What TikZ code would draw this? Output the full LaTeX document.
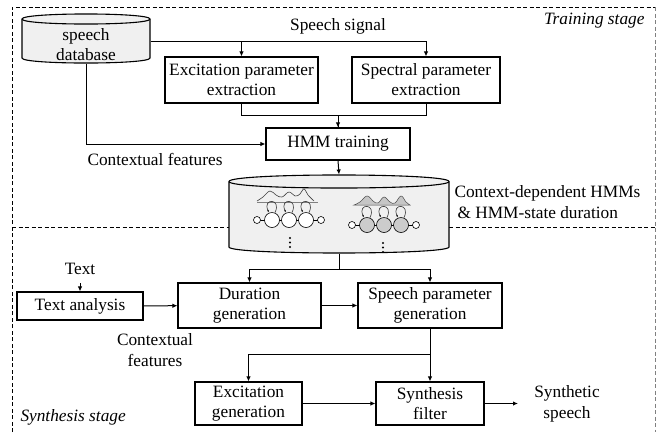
\documentclass[tikz,border=0pt]{standalone}
\usepackage{fontspec}
\setmainfont{Liberation Serif}
\usetikzlibrary{arrows.meta}
\newcommand\fs{\fontsize{17.3}{20}\selectfont}
\newcommand\fsw{\fontsize{17.3}{21}\selectfont}
\begin{document}
\begin{tikzpicture}[x=1pt,y=-1pt, line width=1pt,
  box/.style={draw, line width=1.1pt, align=center, inner sep=0pt, font=\fs},
  lbl/.style={align=center, inner sep=0pt, font=\fs},
  arr/.style={-{Latex[length=5pt,width=4.5pt]}},
  sarr/.style={-{Latex[length=2.5pt,width=2.2pt]}},
  frame/.style={dash pattern=on 4pt off 2.5pt, line width=0.9pt},
  thin/.style={line width=0.6pt}]
\useasboundingbox (0,0) rectangle (663,432);

% frame
\draw[frame] (12,432) -- (12,7) -- (655,7);
\draw[frame, gray] (655,7) -- (655,432);
\draw[frame] (12,227) -- (229,227);
\draw[frame] (449,227) -- (655,227);
\node[lbl, anchor=east, font=\fs\itshape] at (645,21) {Training stage};
\node[lbl, anchor=west, font=\fs\itshape] at (20,417) {Synthesis stage};

% speech database cylinder
\filldraw[fill=gray!12, line width=1.1pt] (22,19) -- (22,58) .. controls (22,64.7) and (150,64.7) .. (150,58)
  -- (150,19) .. controls (150,12.3) and (22,12.3) .. (22,19) -- cycle;
\draw[line width=1.1pt] (22,19) .. controls (22,25.7) and (150,25.7) .. (150,19);
\node[inner sep=0pt, minimum width=128pt, minimum height=44pt] (db) at (86,41) {};
\node[lbl] at (86,45) {speech\\database};

% HMM cylinder
\filldraw[fill=gray!12, line width=1.1pt] (229,181.5) -- (229,247) .. controls (229,255) and (449,255) .. (449,247)
  -- (449,181.5) .. controls (449,172.8) and (229,172.8) .. (229,181.5) -- cycle;
\draw[line width=1.1pt] (229,181.5) .. controls (229,190.2) and (449,190.2) .. (449,181.5);
\node[inner sep=0pt, minimum width=220pt, minimum height=78pt] (cyl) at (339,214) {};

% left HMM
\draw[gray, line width=0.5pt] (257,202) -- (318,202);
\draw[gray!50!black, thin] plot[smooth, tension=0.7] coordinates {(257,201) (263,197) (270,191) (276,195) (282,197) (289,192) (295,196) (300,194) (304,189) (308,195) (314,201)};
\draw[thin] (257,220) -- (321,220);
\foreach \c in {272,289,306} {
  \filldraw[thin, fill=white] (\c,220) circle[radius=7.5pt];
  \draw[thin, gray!40!black, sarr] (\c+3,212.5) .. controls (\c+10,198) and (\c-10,198) .. (\c-3,212.5);
}
\foreach \c in {257,321} \filldraw[thin, fill=white] (\c,220) circle[radius=3.5pt];
\foreach \d in {238,242.5,247} \fill (290,\d) circle[radius=1.2pt];

% right HMM
\filldraw[fill=gray!45, draw=gray!60!black, line width=0.5pt] plot[smooth, tension=0.7] coordinates {(354,205) (360,202) (367,196) (373,201) (378,203) (384,197) (390,202) (395,203) (401,196) (406,202) (410,205)} -- cycle;
\draw[thin] (352,225) -- (416,225);
\foreach \c in {367,384,401} {
  \filldraw[thin, fill=gray!40] (\c,225) circle[radius=7.5pt];
  \draw[thin, gray!40!black, sarr] (\c+3,217.5) .. controls (\c+10,203) and (\c-10,203) .. (\c-3,217.5);
}
\foreach \c in {352,416} \filldraw[thin, fill=white] (\c,225) circle[radius=3.5pt];
\foreach \d in {243,247.5,252} \fill (383,\d) circle[radius=1.2pt];

\node[lbl, anchor=west, align=left, font=\fsw] at (454,202) {Context-dependent HMMs\\\hspace{3pt}\& HMM-state duration};

% training boxes
\node[box, minimum width=153pt, minimum height=46pt] (exc) at (241.5,80) {Excitation parameter\\extraction};
\node[box, minimum width=148pt, minimum height=46pt] (spec) at (426,80) {Spectral parameter\\extraction};
\node[box, minimum width=144pt, minimum height=32pt] (hmm) at (338,144) {HMM training};
\node[lbl] at (338,26) {Speech signal};
\node[lbl] at (155,159) {Contextual features};

\coordinate (sig) at (0,41);
\draw[arr] (db.east) -- (spec.north |- sig) -- (spec.north);
\draw[arr] (exc.north |- sig) -- (exc.north);
\draw[arr] (exc.south) -- ++(0,12) -| (hmm.north);
\draw (spec.south) -- ++(0,12) -| (hmm.north);
\draw[arr] (db.south) |- (hmm.west);
\draw[arr] (hmm.south) -- (cyl.north);

% synthesis
\node[lbl] (txt) at (80,269) {Text};
\node[box, minimum width=126pt, minimum height=28pt] (ta) at (80,306) {Text analysis};
\node[box, minimum width=143pt, minimum height=45pt] (dur) at (249.5,305.5) {Duration\\generation};
\node[box, minimum width=144pt, minimum height=45pt] (spg) at (430,305.5) {Speech parameter\\generation};
\node[lbl, font=\fsw] at (155,350.5) {Contextual\\features};
\node[box, minimum width=107pt, minimum height=43pt] (eg) at (248.5,403.5) {Excitation\\generation};
\node[box, minimum width=108pt, minimum height=43pt] (sf) at (430,403.5) {Synthesis\\filter};
\node[lbl, font=\fsw] at (567,403.5) {Synthetic\\speech};
\coordinate (out) at (518,403.5);

\draw (cyl.south) -- ++(0,16) coordinate (split);
\draw[arr] (split) -| (dur.north);
\draw[arr] (split) -| (spg.north);
\draw[arr] ([yshift=-8pt]txt.south) -- (ta.north);
\draw[arr] (ta) -- (dur);
\draw[arr] (dur) -- (spg);
\draw[arr] (spg.south) -- (sf.north);
\path (spg.south) ++(0,26) coordinate (br);
\draw[arr] (br) -| (eg.north);
\draw[arr] (eg) -- (sf);
\draw[arr] (sf) -- (out);
\end{tikzpicture}
\end{document}
